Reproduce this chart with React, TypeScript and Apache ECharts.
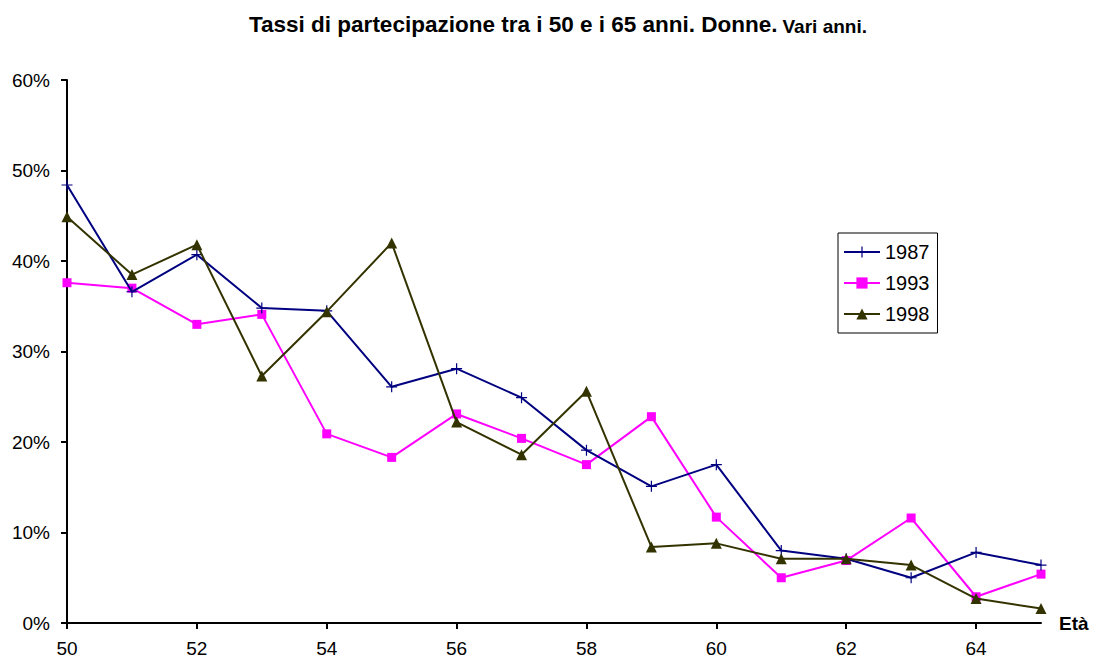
import React, { useEffect, useRef } from "react";
import * as echarts from "echarts";

// Ages on the horizontal axis
const ages = ["50", "51", "52", "53", "54", "55", "56", "57", "58", "59", "60", "61", "62", "63", "64", "65"];

// Participation rates (%) of women by age, per survey year
const rate1987 = [48.4, 36.6, 40.7, 34.8, 34.5, 26.1, 28.1, 24.9, 19.1, 15.1, 17.5, 8.0, 7.1, 5.0, 7.8, 6.4];
const rate1993 = [37.6, 37.0, 33.0, 34.1, 20.9, 18.3, 23.1, 20.4, 17.5, 22.8, 11.7, 5.0, 6.9, 11.6, 2.9, 5.4];
const rate1998 = [44.9, 38.5, 41.8, 27.3, 34.4, 42.0, 22.2, 18.6, 25.6, 8.4, 8.8, 7.1, 7.1, 6.4, 2.7, 1.6];

const FONT = "'Liberation Sans', Arial, sans-serif";

// thin "+" marker
const PLUS = "path://M-0.6,-5.5 H0.6 V-0.6 H5.5 V0.6 H0.6 V5.5 H-0.6 V0.6 H-5.5 V-0.6 H-0.6 Z";

export default function App() {
  const ref = useRef<HTMLDivElement>(null);

  useEffect(() => {
    if (!ref.current) return;
    const chart = echarts.init(ref.current, undefined, { renderer: "svg" });
    chart.setOption({
      animation: false,
      backgroundColor: "#ffffff",
      textStyle: { fontFamily: FONT, color: "#000" },
      title: {
        text: "{a|Tassi di partecipazione tra i 50 e i 65 anni. Donne.} {b|Vari anni.}",
        left: 244,
        top: 8,
        textStyle: {
          fontFamily: FONT,
          rich: {
            a: { fontSize: 22.5, fontWeight: "bold", color: "#000", fontFamily: FONT, verticalAlign: "bottom" },
            b: { fontSize: 19, fontWeight: "bold", color: "#000", fontFamily: FONT, verticalAlign: "bottom" },
          },
        },
      },
      legend: {
        orient: "vertical",
        left: 838,
        top: 233,
        padding: [8, 8, 8, 5],
        itemWidth: 36,
        itemHeight: 14,
        itemGap: 9,
        borderColor: "#000",
        borderWidth: 1,
        textStyle: { fontSize: 20, fontFamily: FONT, color: "#000", lineHeight: 22 },
        data: ["1987", "1993", "1998"],
      },
      grid: { left: 67, right: 64, top: 80, bottom: 39, containLabel: false },
      xAxis: {
        type: "category",
        data: ages,
        boundaryGap: false,
        name: "Età",
        nameLocation: "end",
        nameGap: 18,
        nameTextStyle: { fontSize: 19, fontWeight: "bold", fontFamily: FONT, color: "#000", verticalAlign: "middle", padding: [8, 0, 0, 0] },
        axisLine: { lineStyle: { color: "#000", width: 2 } },
        axisTick: { show: true, interval: 1, length: 6, inside: false, lineStyle: { color: "#000", width: 2 } },
        axisLabel: { interval: 1, fontSize: 19, fontFamily: FONT, color: "#000", margin: 16 },
        splitLine: { show: false },
      },
      yAxis: {
        type: "value",
        min: 0,
        max: 60,
        interval: 10,
        axisLine: { show: true, lineStyle: { color: "#000", width: 2 } },
        axisTick: { show: true, length: 6, lineStyle: { color: "#000", width: 2 } },
        axisLabel: { formatter: "{value}%", fontSize: 19, fontFamily: FONT, color: "#000", margin: 17 },
        splitLine: { show: false },
      },
      series: [
        {
          name: "1987",
          type: "line",
          data: rate1987,
          color: "#000080",
          lineStyle: { color: "#000080", width: 2 },
          symbol: PLUS,
          symbolSize: 11,
          itemStyle: { color: "#000080" },
          z: 3,
        },
        {
          name: "1993",
          type: "line",
          data: rate1993,
          color: "#ff00ff",
          lineStyle: { color: "#ff00ff", width: 2 },
          symbol: "rect",
          symbolSize: 9,
          itemStyle: { color: "#ff00ff" },
          z: 2,
        },
        {
          name: "1998",
          type: "line",
          data: rate1998,
          color: "#333300",
          lineStyle: { color: "#333300", width: 2 },
          symbol: "triangle",
          symbolSize: 11,
          itemStyle: { color: "#333300" },
          z: 4,
        },
      ],
    });
    return () => chart.dispose();
  }, []);

  return (
    <div
      ref={ref}
      style={{ position: "fixed", left: 0, top: 0, width: 1105, height: 662, background: "#fff" }}
    />
  );
}
